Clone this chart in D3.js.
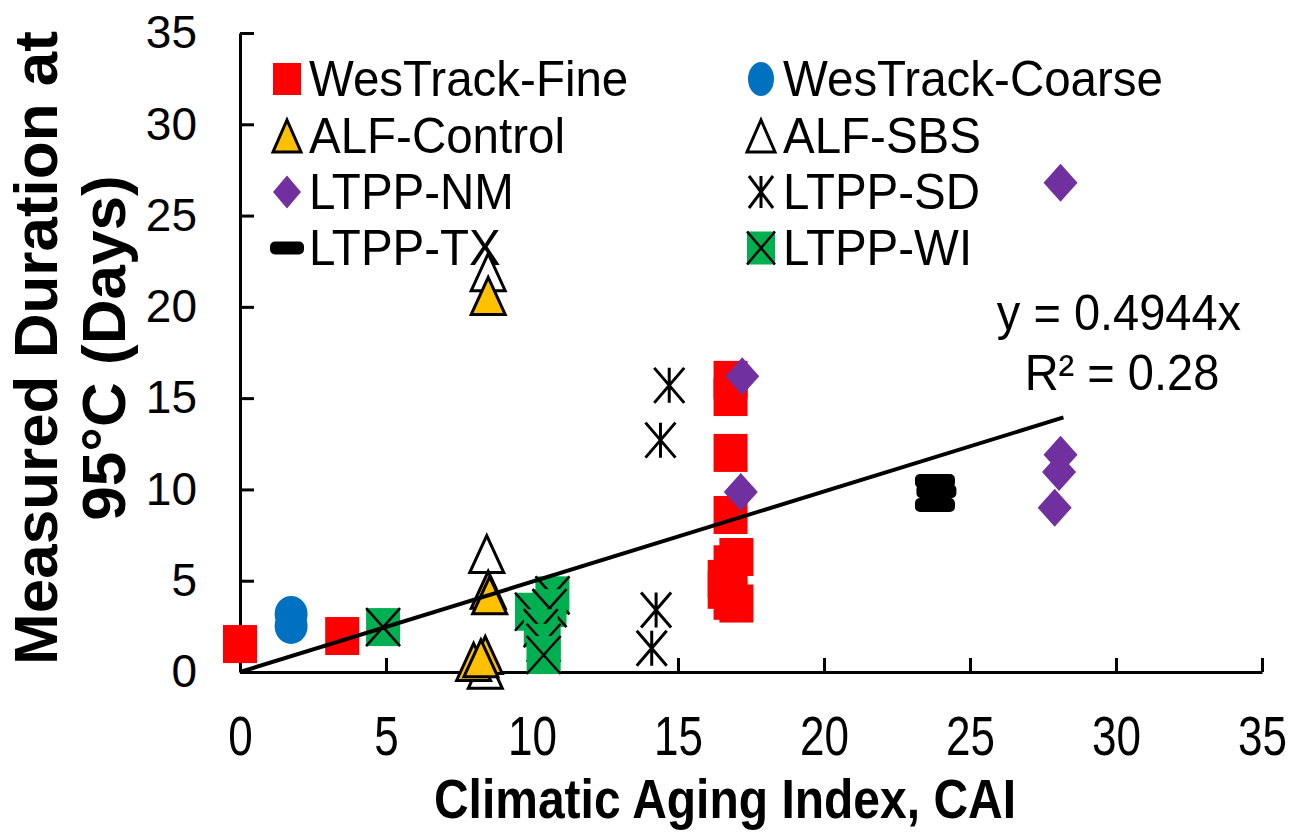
<!DOCTYPE html>
<html>
<head>
<meta charset="utf-8">
<script src="https://cdn.jsdelivr.net/npm/d3@7/dist/d3.min.js"></script>
<style>
  html, body { margin: 0; padding: 0; background: #fff; }
  svg text { font-family: "Liberation Sans", Arial, sans-serif; fill: #000; }
</style>
</head>
<body>
<svg id="chart" width="1297" height="834"></svg>
<script>
// ---- Data: [CAI, measured duration at 95°C in days] ----
const wesTrackFine = [[0, 1.53], [3.5, 1.97], [16.8, 16.0], [16.8, 15.06], [16.8, 12.0], [16.8, 8.6],
  [17.0, 6.3], [16.8, 5.9], [16.6, 5.1], [16.6, 4.5], [16.8, 3.9], [17.0, 3.75]];
const wesTrackCoarse = [[1.75, 3.18], [1.75, 2.52]];
const alfSBS = [[8.5, 21.9], [8.45, 6.46], [8.4, 0.12]];
const alfControl = [[8.5, 20.6], [8.5, 4.5], [8.55, 4.2], [8.0, 0.55], [8.4, 0.93], [8.25, 0.75]];
const ltppNM = [[28.1, 26.8], [28.1, 11.9], [28.05, 10.95], [27.9, 9.0], [17.2, 16.2], [17.15, 9.86]];
const ltppSD = [[14.7, 15.7], [14.4, 12.7], [14.25, 3.4], [14.1, 1.3]];
const ltppTX = [[23.8, 10.46], [23.85, 9.9], [23.8, 9.15]];
const ltppWI = [[4.9, 2.46], [10.7, 4.2], [10.0, 3.3], [10.6, 3.5], [10.3, 2.4], [10.4, 1.6], [10.4, 0.93]];

const xTicks = [0, 5, 10, 15, 20, 25, 30, 35];
const yTicks = [0, 5, 10, 15, 20, 25, 30, 35];
const trendSlope = 0.4944;
const trendRange = [0, 28.2];
const equationLines = ["y = 0.4944x", "R\u00B2 = 0.28"];

// ---- Series styling ----
const series = [
  { name: "WesTrack-Fine",   data: wesTrackFine,   shape: "square",   fill: "#FF0000" },
  { name: "WesTrack-Coarse", data: wesTrackCoarse, shape: "circle",   fill: "#0070C0" },
  { name: "ALF-Control",     data: alfControl,     shape: "triangle", fill: "#FFC000" },
  { name: "ALF-SBS",         data: alfSBS,         shape: "triangle", fill: "#FFFFFF" },
  { name: "LTPP-NM",         data: ltppNM,         shape: "diamond",  fill: "#7030A0" },
  { name: "LTPP-SD",         data: ltppSD,         shape: "star",     fill: "none" },
  { name: "LTPP-TX",         data: ltppTX,         shape: "dash",     fill: "#000000" },
  { name: "LTPP-WI",         data: ltppWI,         shape: "xsquare",  fill: "#00B050" }
];
// drawing order (later on top)
const drawOrder = ["WesTrack-Fine", "WesTrack-Coarse", "ALF-SBS", "ALF-Control", "LTPP-NM", "LTPP-SD", "LTPP-TX", "LTPP-WI"];

const plotSizes = {
  square: [34, 38], circle: [33, 36], triangle: [34, 37], diamond: [34, 38],
  star: [30, 35], dash: [40, 14], xsquare: [34, 38]
};
const legendSizes = {
  square: [28, 32], circle: [26, 34], triangle: [28, 32], diamond: [28, 33],
  star: [24, 32], dash: [34, 13], xsquare: [28, 33]
};

const svg = d3.select("#chart");
const x = d3.scaleLinear().domain([0, 35]).range([240, 1262]);
const y = d3.scaleLinear().domain([0, 35]).range([672, 33]);

// ---- Axes (ticks point inward) ----
const yAxis = d3.axisLeft(y).tickValues(yTicks).tickSize(-14).tickSizeOuter(0).tickPadding(43);
const gy = svg.append("g").attr("transform", `translate(${x(0)},0)`).call(yAxis);
gy.select(".domain").attr("stroke", "#000").attr("stroke-width", 3);
gy.selectAll(".tick line").attr("stroke", "#000").attr("stroke-width", 3);
gy.selectAll(".tick text").attr("font-size", 46).attr("font-family", "Liberation Sans, Arial, sans-serif").attr("fill", "#000");

const xAxis = d3.axisBottom(x).tickValues(xTicks).tickSize(-14).tickSizeOuter(0);
const gx = svg.append("g").attr("transform", `translate(0,${y(0)})`).call(xAxis);
gx.select(".domain").attr("stroke", "#000").attr("stroke-width", 3);
gx.selectAll(".tick line").attr("stroke", "#000").attr("stroke-width", 3);
const xStretch = 1.25;
gx.selectAll(".tick text")
  .attr("font-size", 44).attr("font-family", "Liberation Sans, Arial, sans-serif").attr("fill", "#000")
  .attr("dy", null).attr("y", 83 / xStretch)
  .attr("transform", `scale(1,${xStretch})`);

// ---- Axis titles ----
const titleStretch = 1.14;
svg.append("text")
  .attr("x", 725).attr("y", 818 / titleStretch)
  .attr("transform", `scale(1,${titleStretch})`)
  .attr("text-anchor", "middle").attr("font-size", 48).attr("font-weight", "bold")
  .text("Climatic Aging Index, CAI");

const yTitle = svg.append("text")
  .attr("transform", "translate(57,348) rotate(-90)")
  .attr("text-anchor", "middle").attr("font-size", 62).attr("font-weight", "bold");
yTitle.append("tspan").attr("x", 0).attr("y", 0).text("Measured Duration at");
yTitle.append("tspan").attr("x", 0).attr("y", 68).text("95°C (Days)");

// ---- Marker drawing ----
function drawMarker(g, shape, fill, w, h) {
  const hw = w / 2, hh = h / 2;
  if (shape === "square") {
    g.append("rect").attr("x", -hw).attr("y", -hh).attr("width", w).attr("height", h).attr("fill", fill);
  } else if (shape === "circle") {
    g.append("ellipse").attr("rx", hw).attr("ry", hh).attr("fill", fill);
  } else if (shape === "triangle") {
    g.append("path").attr("d", `M0,${-hh}L${hw},${hh}L${-hw},${hh}Z`)
      .attr("fill", fill).attr("stroke", "#000").attr("stroke-width", 3).attr("stroke-linejoin", "miter");
  } else if (shape === "diamond") {
    g.append("path").attr("d", `M0,${-hh}L${hw},0L0,${hh}L${-hw},0Z`).attr("fill", fill);
  } else if (shape === "star") {
    g.append("path").attr("d", `M${-hw},${-hh}L${hw},${hh}M${hw},${-hh}L${-hw},${hh}M0,${-hh}L0,${hh}`)
      .attr("fill", "none").attr("stroke", "#000").attr("stroke-width", 3);
  } else if (shape === "dash") {
    g.append("rect").attr("x", -hw).attr("y", -hh).attr("width", w).attr("height", h)
      .attr("rx", 5).attr("ry", 5).attr("fill", fill);
  } else if (shape === "xsquare") {
    g.append("rect").attr("x", -hw).attr("y", -hh).attr("width", w).attr("height", h).attr("fill", fill);
    g.append("path").attr("d", `M${-hw},${-hh}L${hw},${hh}M${hw},${-hh}L${-hw},${hh}`)
      .attr("stroke", "#000").attr("stroke-width", 2.5);
  }
}

const marks = svg.append("g");
drawOrder.forEach(name => {
  const s = series.find(d => d.name === name);
  const [w, h] = plotSizes[s.shape];
  marks.selectAll(null).data(s.data).enter().append("g")
    .attr("transform", d => `translate(${x(d[0])},${y(d[1])})`)
    .each(function () { drawMarker(d3.select(this), s.shape, s.fill, w, h); });
});

// ---- Linear trend through origin ----
const trendLine = d3.line().x(d => x(d)).y(d => y(trendSlope * d));
svg.append("path").attr("d", trendLine(trendRange))
  .attr("fill", "none").attr("stroke", "#000").attr("stroke-width", 4);

const textStretch = 1.06;
svg.append("text").attr("text-anchor", "middle").attr("font-size", 47)
  .attr("transform", `scale(1,${textStretch})`)
  .attr("x", 1119).attr("y", 330 / textStretch).text(equationLines[0]);
svg.append("text").attr("text-anchor", "middle").attr("font-size", 47)
  .attr("transform", `scale(1,${textStretch})`)
  .attr("x", 1122).attr("y", 390 / textStretch).text(equationLines[1]);

// ---- Legend (two columns, four rows) ----
const legendCols = [287, 761];
const legendRows = [79, 136, 192, 248];
const legend = svg.append("g");
series.forEach((s, i) => {
  const cx = legendCols[i % 2], cy = legendRows[Math.floor(i / 2)];
  const g = legend.append("g").attr("transform", `translate(${cx},${cy})`);
  const [w, h] = legendSizes[s.shape];
  drawMarker(g, s.shape, s.fill, w, h);
  legend.append("text")
    .attr("transform", `scale(1,${textStretch})`)
    .attr("x", cx + 22).attr("y", (cy + 17) / textStretch)
    .attr("font-size", 47.5).text(s.name);
});
</script>
</body>
</html>
